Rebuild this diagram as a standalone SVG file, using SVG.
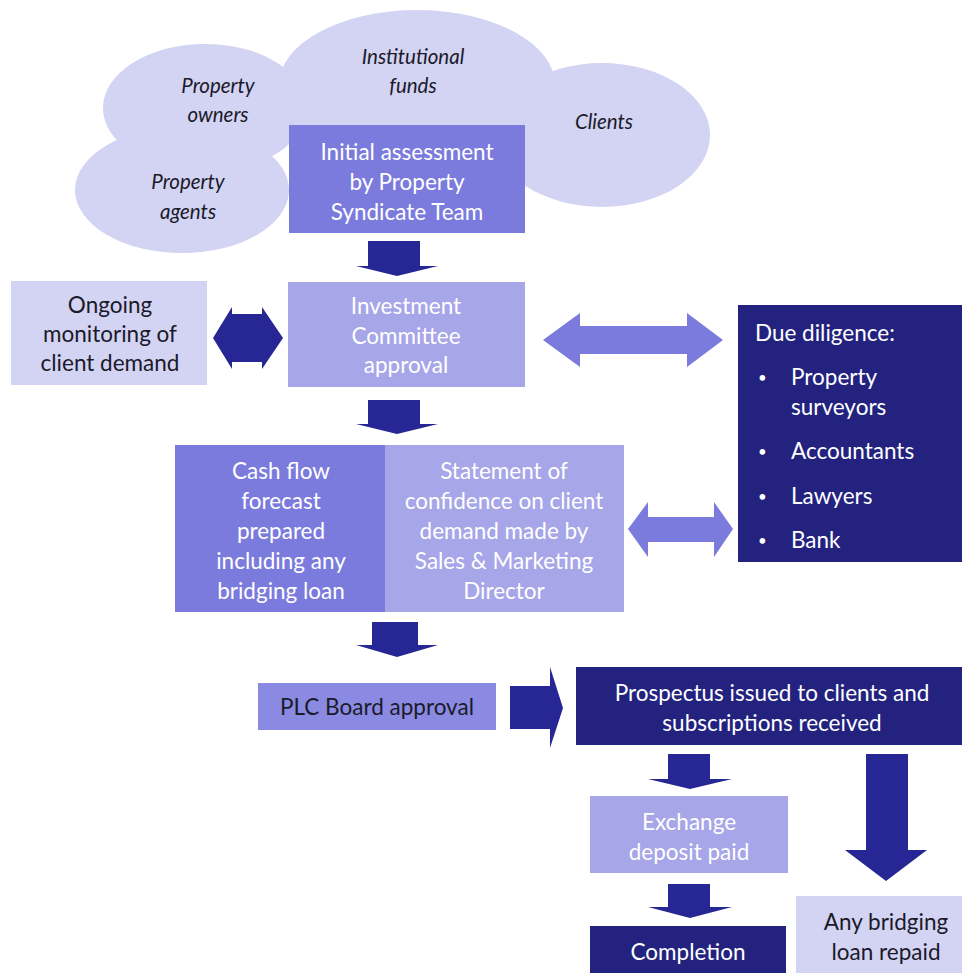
<svg xmlns="http://www.w3.org/2000/svg" width="962" height="973" viewBox="0 0 962 973">
<style>
.t{font-family:"Lato","Liberation Sans",sans-serif;font-size:22.5px;text-anchor:middle}
.w{fill:#ffffff}
.d{fill:#1a1a2a}
.i{font-style:italic;font-size:20.5px}
.b{font-size:15px}
.cloud{fill:#d3d3f3}
.med{fill:#7b7bdd}
.lt{fill:#a6a6e8}
.pale{fill:#d3d3f3}
.dk{fill:#23237f}
.ad{fill:#262694}
.am{fill:#7b7bdd}
</style>
<rect width="962" height="973" fill="#ffffff"/>
<g id="clouds">
<ellipse class="cloud" cx="205" cy="108" rx="102" ry="64"/>
<ellipse class="cloud" cx="417" cy="85" rx="138" ry="75"/>
<ellipse class="cloud" cx="602" cy="135" rx="108" ry="72"/>
<ellipse class="cloud" cx="182" cy="190" rx="107" ry="63"/>
<text class="t d i" x="218" y="93">Property</text>
<text class="t d i" x="218" y="122">owners</text>
<text class="t d i" x="413" y="64">Institutional</text>
<text class="t d i" x="413" y="93">funds</text>
<text class="t d i" x="604" y="129">Clients</text>
<text class="t d i" x="188" y="189">Property</text>
<text class="t d i" x="188" y="219">agents</text>
</g>
<g id="connectors">
<polygon class="ad" points="368,241 420,241 420,266 438,266 397,276 356,266 368,266"/>
<polygon class="ad" points="368,400 420,400 420,424 438,424 397,434 356,424 368,424"/>
<polygon class="ad" points="372,622 418,622 418,645 438,645 397,657 356,645 372,645"/>
<polygon class="ad" points="668,754 710,754 710,779 732,779 690,789 648,779 668,779"/>
<polygon class="ad" points="668,884 710,884 710,907 732,907 690,918 648,907 668,907"/>
<polygon class="ad" points="866,754 908,754 908,850 927,850 886,881 845,850 866,850"/>
<polygon class="ad" points="510,686 550,686 550,667 563,708 550,748 550,729 510,729"/>
<polygon class="ad" points="213,338 232,307 232,314 262,314 262,307 283,338 262,369 262,362 232,362 232,369"/>
<polygon class="am" points="543,340 580,313 580,326 687,326 687,313 723,340 687,367 687,354 580,354 580,367"/>
<polygon class="am" points="628,529 648,502 648,517 714,517 714,502 733,529 714,557 714,542 648,542 648,557"/>
</g>
<g id="initial">
<rect class="med" x="289" y="125" width="236" height="108"/>
<text class="t w" x="407" y="160">Initial assessment</text>
<text class="t w" x="407" y="190">by Property</text>
<text class="t w" x="407" y="220">Syndicate Team</text>
</g>
<g id="investment">
<rect class="lt" x="288" y="282" width="237" height="105"/>
<text class="t w" x="406" y="314">Investment</text>
<text class="t w" x="406" y="344">Committee</text>
<text class="t w" x="406" y="373">approval</text>
</g>
<g id="monitoring">
<rect class="pale" x="11" y="281" width="196" height="104"/>
<text class="t d" x="110" y="313">Ongoing</text>
<text class="t d" x="110" y="342">monitoring of</text>
<text class="t d" x="110" y="371">client demand</text>
</g>
<g id="duediligence">
<rect class="dk" x="738" y="305" width="224" height="257"/>
<text class="t w" x="755" y="341" style="text-anchor:start">Due diligence:</text>
<text class="t w b" x="758" y="383" style="text-anchor:start">•</text>
<text class="t w" x="791" y="385" style="text-anchor:start">Property</text>
<text class="t w" x="791" y="415" style="text-anchor:start">surveyors</text>
<text class="t w b" x="758" y="457" style="text-anchor:start">•</text>
<text class="t w" x="791" y="459" style="text-anchor:start">Accountants</text>
<text class="t w b" x="758" y="502" style="text-anchor:start">•</text>
<text class="t w" x="791" y="504" style="text-anchor:start">Lawyers</text>
<text class="t w b" x="758" y="546" style="text-anchor:start">•</text>
<text class="t w" x="791" y="548" style="text-anchor:start">Bank</text>
</g>
<g id="cashflow">
<rect class="med" x="175" y="445" width="210" height="167"/>
<text class="t w" x="281" y="479">Cash flow</text>
<text class="t w" x="281" y="509">forecast</text>
<text class="t w" x="281" y="539">prepared</text>
<text class="t w" x="281" y="569">including any</text>
<text class="t w" x="281" y="599">bridging loan</text>
</g>
<g id="statement">
<rect class="lt" x="385" y="445" width="239" height="167"/>
<text class="t w" x="504" y="479">Statement of</text>
<text class="t w" x="504" y="509">confidence on client</text>
<text class="t w" x="504" y="539">demand made by</text>
<text class="t w" x="504" y="569">Sales &amp; Marketing</text>
<text class="t w" x="504" y="599">Director</text>
</g>
<g id="plc">
<rect x="258" y="683" width="238" height="47" fill="#8a8ae2"/>
<text class="t d" x="377" y="715">PLC Board approval</text>
</g>
<g id="prospectus">
<rect class="dk" x="576" y="667" width="386" height="78"/>
<text class="t w" x="772" y="701">Prospectus issued to clients and</text>
<text class="t w" x="772" y="731">subscriptions received</text>
</g>
<g id="exchange">
<rect class="lt" x="590" y="796" width="198" height="77"/>
<text class="t w" x="689" y="830">Exchange</text>
<text class="t w" x="689" y="860">deposit paid</text>
</g>
<g id="completion">
<rect class="dk" x="590" y="926" width="196" height="47"/>
<text class="t w" x="688" y="960">Completion</text>
</g>
<g id="bridging">
<rect class="pale" x="796" y="896" width="166" height="77"/>
<text class="t d" x="886" y="930">Any bridging</text>
<text class="t d" x="886" y="960">loan repaid</text>
</g>
</svg>
